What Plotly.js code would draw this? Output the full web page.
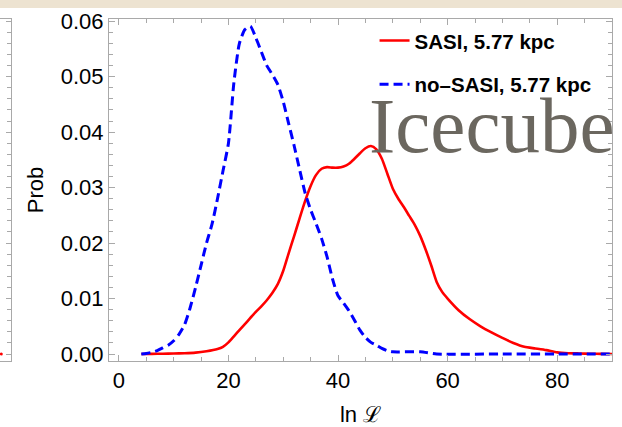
<!DOCTYPE html>
<html>
<head>
<meta charset="utf-8">
<script src="https://cdn.plot.ly/plotly-3.0.1.min.js"></script>
<style>html,body{margin:0;padding:0;background:#fff;}#chart{width:622px;height:427px;}</style>
</head>
<body>
<div id="chart"></div>
<script>
// SASI, 5.77 kpc (red solid)
const sasiX = [4.1, 6, 8, 10, 12, 14, 16, 18, 19, 20, 21, 22, 23, 24, 25, 26, 27, 28, 29, 30, 31, 32, 33, 34, 35, 36, 37, 38, 39, 40, 41, 42, 43, 44, 45, 46, 47, 48, 49, 50, 51, 52, 53, 54, 55, 56, 57, 58, 59, 60, 62, 64, 66, 68, 70, 72, 74, 76, 78, 80, 82, 84, 86, 88, 90];
const sasiY = [0, 0.00003, 0.00005, 0.0001, 0.00015, 0.00025, 0.0005, 0.0009, 0.0013, 0.0021, 0.0032, 0.0043, 0.0054, 0.0065, 0.0076, 0.0086, 0.0097, 0.0110, 0.0126, 0.0150, 0.0182, 0.0213, 0.0245, 0.0276, 0.0303, 0.0323, 0.0334, 0.0337, 0.0336, 0.0336, 0.0338, 0.0343, 0.0352, 0.0362, 0.0371, 0.0375, 0.0369, 0.0352, 0.0325, 0.0298, 0.0280, 0.0265, 0.0249, 0.0233, 0.0213, 0.0188, 0.0160, 0.0130, 0.0112, 0.0100, 0.0079, 0.0063, 0.0050, 0.0039, 0.0029, 0.0020, 0.0013, 0.0010, 0.0007, 0.0003, 0.00015, 0.0001, 0.00005, 0.00002, 0];

// no-SASI, 5.77 kpc (blue dashed)
const noSasiX = [4.1, 5, 6, 7, 8, 9, 10, 11, 12, 13, 14, 15, 16, 17, 18, 19, 20, 21, 22, 23, 24, 25, 26, 27, 28, 29, 30, 31, 32, 33, 34, 35, 36, 37, 38, 39, 40, 41, 42, 43, 44, 45, 46, 47, 48, 49, 50, 55, 58, 70, 80, 90];
const noSasiY = [0, 0.0001, 0.0003, 0.0006, 0.0011, 0.0016, 0.0024, 0.0036, 0.0053, 0.0083, 0.0120, 0.0160, 0.0200, 0.0234, 0.0280, 0.0330, 0.0380, 0.0490, 0.0560, 0.0585, 0.0591, 0.0570, 0.0545, 0.0520, 0.0504, 0.0486, 0.0455, 0.0415, 0.0375, 0.0332, 0.0290, 0.0260, 0.0235, 0.0208, 0.0175, 0.0135, 0.0105, 0.0092, 0.0078, 0.0061, 0.0043, 0.0030, 0.0021, 0.0016, 0.0010, 0.0006, 0.0004, 0.0004, 0, 0, 0, 0];

// edge of the neighbouring panel (one visible point)
const edgeX = [0.12];
const edgeY = [0.0];

const xTickVals = [0, 20, 40, 60, 80];
const yTickVals = [0.00, 0.01, 0.02, 0.03, 0.04, 0.05, 0.06];

const frameColor = '#a9a9a9';
const font = {family: 'Liberation Sans, Arial, sans-serif', size: 22, color: '#000'};

const traces = [
  {x: sasiX, y: sasiY, mode: 'lines', name: 'SASI, 5.77 kpc', legendgroup: 'a',
   line: {color: '#ff0000', width: 2.6, shape: 'spline', smoothing: 0.6}, xaxis: 'x', yaxis: 'y'},
  {x: noSasiX, y: noSasiY, mode: 'lines', name: 'no\u2013SASI, 5.77 kpc', legendgroup: 'b',
   line: {color: '#0000ff', width: 3, dash: '9px,5px', shape: 'spline', smoothing: 0.6}, xaxis: 'x', yaxis: 'y'},
  {x: edgeX, y: edgeY, mode: 'markers', showlegend: false, hoverinfo: 'skip',
   marker: {color: '#ff0000', size: 3}, xaxis: 'x2', yaxis: 'y2'}
];

const yRange = [-0.00126, 0.0604];

const layout = {
  width: 622, height: 427,
  margin: {l: 0, r: 10, t: 19, b: 66},
  paper_bgcolor: '#ffffff', plot_bgcolor: '#ffffff',
  font: font,
  showlegend: true,
  legend: {x: 0.612, y: 0.995, xanchor: 'left', yanchor: 'top', bgcolor: 'rgba(0,0,0,0)',
           font: {family: 'Liberation Sans, Arial, sans-serif', size: 20.5, color: '#000', weight: 'bold'},
           tracegroupgap: 14},
  xaxis: {domain: [109/612, 1], range: [-1.8, 90], anchor: 'y',
          tickvals: xTickVals, ticktext: xTickVals.map(String),
          showline: true, linecolor: frameColor, linewidth: 1, mirror: 'allticks',
          ticks: 'inside', ticklen: 6, tickcolor: frameColor, tickwidth: 1,
          minor: {dtick: 5, tick0: 0, ticks: 'inside', ticklen: 4, tickcolor: frameColor, showgrid: false},
          showgrid: false, zeroline: false, tickfont: font,
          title: {text: 'ln \u2112', font: font, standoff: 17}},
  yaxis: {domain: [0, 1], range: yRange, anchor: 'x',
          tickvals: yTickVals, tickformat: '.2f',
          showline: true, linecolor: frameColor, linewidth: 1, mirror: 'allticks',
          ticks: 'inside', ticklen: 6, tickcolor: frameColor, tickwidth: 1,
          minor: {dtick: 0.002, tick0: 0, ticks: 'inside', ticklen: 4, tickcolor: frameColor, showgrid: false},
          showgrid: false, zeroline: false, tickfont: font,
          title: {text: 'Prob', font: font, standoff: 11}},
  xaxis2: {domain: [0, 11/612], range: [0, 1], anchor: 'y2', showline: true, linecolor: frameColor,
           mirror: true, ticks: '', showticklabels: false, showgrid: false, zeroline: false},
  yaxis2: {domain: [0, 1], range: yRange, anchor: 'x2', side: 'right', showline: true, linecolor: frameColor,
           ticks: 'inside', ticklen: 5, tickcolor: frameColor, tickvals: yTickVals, showticklabels: false,
           minor: {dtick: 0.002, tick0: 0, ticks: 'inside', ticklen: 4, tickcolor: frameColor, showgrid: false},
           showgrid: false, zeroline: false},
  shapes: [
    {type: 'rect', xref: 'paper', yref: 'paper', x0: -0.01, x1: 1.03, y0: (361-8)/342, y1: 361/342 + 0.01,
     fillcolor: '#ede3d1', line: {width: 0}, layer: 'below'}
  ],
  annotations: [
    {text: 'Icecube', xref: 'paper', yref: 'paper', x: 1.006, y: (361-125)/342, xanchor: 'right', yanchor: 'middle',
     showarrow: false, borderpad: 0, font: {family: 'Liberation Serif, Times New Roman, serif', size: 79, color: '#6b675f'}}
  ]
};

Plotly.newPlot('chart', traces, layout, {staticPlot: true, displayModeBar: false});
</script>
</body>
</html>
